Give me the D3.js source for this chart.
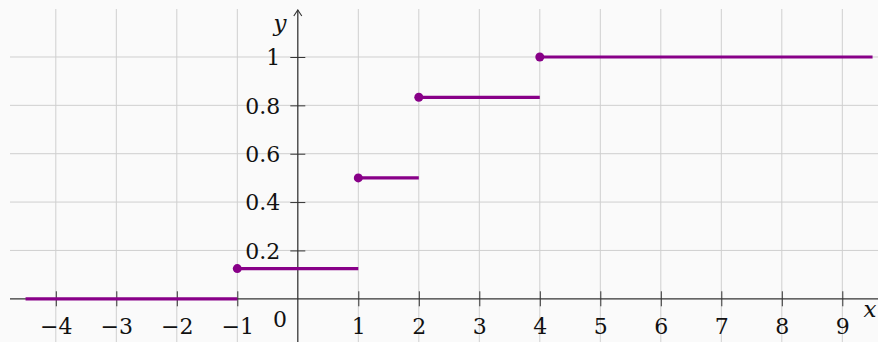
<!DOCTYPE html>
<html><head><meta charset="utf-8">
<script src="https://cdn.jsdelivr.net/npm/d3@7"></script>
<style>
html,body{margin:0;padding:0;background:#fafafa;}
svg{display:block;}
text{font-family:"DejaVu Serif",serif;fill:#111;}
</style></head>
<body>
<script>
// Step function data
const breaks = [-4.5, -1, 1, 2, 4, 9.5];
const values = [0, 0.125, 0.5, 0.8333, 1];
const dotXs = [-1, 1, 2, 4];
const dotYs = [0.125, 0.5, 0.8333, 1];
const xTicks = [-4, -3, -2, -1, 1, 2, 3, 4, 5, 6, 7, 8, 9];
const xGrid = [-4, -3, -2, -1, 0, 1, 2, 3, 4, 5, 6, 7, 8, 9];
const yTicks = [0.2, 0.4, 0.6, 0.8, 1];
const yTickLabels = ["0.2", "0.4", "0.6", "0.8", "1"];

const W = 878, H = 342;
const svg = d3.select("body").append("svg").attr("width", W).attr("height", H);

const x = d3.scaleLinear().domain([-4.757, 9.59]).range([10, 878]);
const y = d3.scaleLinear().domain([-0.1787, 1.1985]).range([342, 9]);

// grid
const grid = svg.append("g").attr("stroke", "#cfcfcf").attr("stroke-width", 1);
grid.selectAll("line.v").data(xGrid).join("line").attr("class","v")
  .attr("x1", d => x(d)).attr("x2", d => x(d)).attr("y1", y.range()[1]).attr("y2", y.range()[0]);
grid.selectAll("line.h").data(yTicks).join("line").attr("class","h")
  .attr("x1", x.range()[0]).attr("x2", x.range()[1]).attr("y1", d => y(d)).attr("y2", d => y(d));

// axes
const axisColor = "#333";
const xAxis = d3.axisBottom(x).tickValues(xTicks).tickSize(15)
  .tickFormat(d => d < 0 ? "\u2212" + Math.abs(d) : String(d));
const gx = svg.append("g").attr("transform", `translate(0,${y(0) - 7.5})`).call(xAxis);
gx.select(".domain").remove();
gx.selectAll(".tick line").attr("stroke", axisColor);
gx.selectAll(".tick text").attr("font-size", 22).attr("font-family", "DejaVu Serif")
  .attr("fill", "#111").attr("y", 43).attr("dy", 0);
svg.append("line").attr("x1", x.range()[0]).attr("x2", x.range()[1])
  .attr("y1", y(0)).attr("y2", y(0)).attr("stroke", axisColor).attr("stroke-width", 1.2);

const yAxis = d3.axisLeft(y).tickValues(yTicks).tickSize(15)
  .tickFormat((d, i) => yTickLabels[i]);
const gy = svg.append("g").attr("transform", `translate(${x(0) + 7.5},0)`).call(yAxis);
gy.select(".domain").remove();
gy.selectAll(".tick line").attr("stroke", axisColor);
gy.selectAll(".tick text").attr("font-size", 22).attr("font-family", "DejaVu Serif")
  .attr("fill", "#111").attr("x", -25).attr("dy", "0.36em");
svg.append("line").attr("x1", x(0)).attr("x2", x(0))
  .attr("y1", 10).attr("y2", H).attr("stroke", axisColor).attr("stroke-width", 1.2);
// arrowhead
svg.append("path").attr("d", `M${x(0)-4},${16} L${x(0)},${10} L${x(0)+4},${16}`)
  .attr("fill", "none").attr("stroke", axisColor).attr("stroke-width", 1.1);

// labels
svg.append("text").attr("x", 280).attr("y", 327).attr("text-anchor", "middle")
  .attr("font-size", 22).text("0");
svg.append("text").attr("x", 280).attr("y", 31).attr("text-anchor", "middle")
  .attr("font-size", 23).attr("font-style", "italic").text("y");
svg.append("text").attr("x", 870).attr("y", 317).attr("text-anchor", "middle")
  .attr("font-size", 23).attr("font-style", "italic").text("x");

// step segments
const segs = values.map((v, i) => ({x0: breaks[i], x1: breaks[i + 1], y: v}));
const purple = "#880088";
svg.append("g").selectAll("line").data(segs).join("line")
  .attr("x1", d => x(d.x0)).attr("x2", d => x(d.x1))
  .attr("y1", d => y(d.y)).attr("y2", d => y(d.y))
  .attr("stroke", purple).attr("stroke-width", 3.2);
svg.append("g").selectAll("circle").data(dotXs).join("circle")
  .attr("cx", d => x(d)).attr("cy", (d, i) => y(dotYs[i])).attr("r", 4.5)
  .attr("fill", purple);
</script>
</body></html>
